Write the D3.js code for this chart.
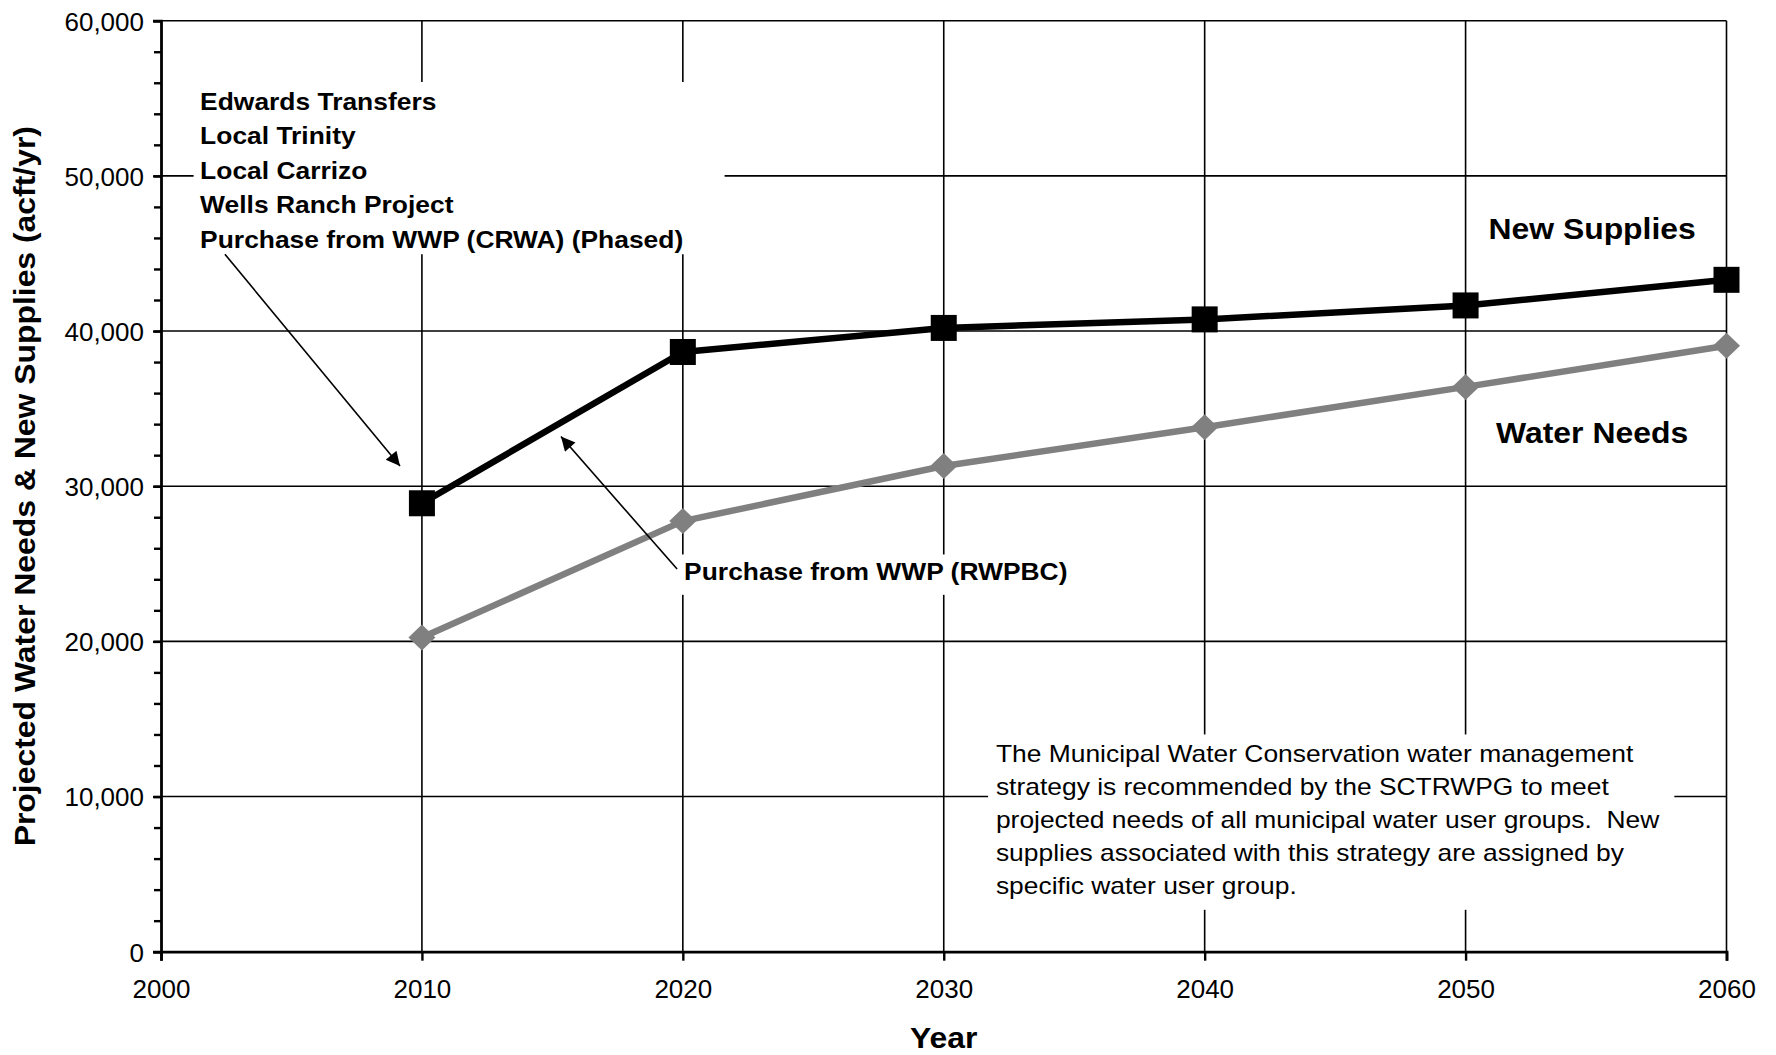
<!DOCTYPE html>
<html>
<head>
<meta charset="utf-8">
<script src="https://cdn.jsdelivr.net/npm/d3@7"></script>
<style>
  body { margin: 0; background: #fff; }
  text { font-family: "Liberation Sans", Arial, sans-serif; fill: #000; }
</style>
</head>
<body>
<div id="chart-area"></div>
<script>
// data
var years = [2010, 2020, 2030, 2040, 2050, 2060];
var newSupplies = [28900, 38650, 40200, 40750, 41650, 43300];
var waterNeeds = [20250, 27750, 31300, 33800, 36400, 39050];
var xTicks = [2000, 2010, 2020, 2030, 2040, 2050, 2060];
var yTicks = [0, 10000, 20000, 30000, 40000, 50000, 60000];
var yMinorTicks = d3.range(0, 60001, 2000);
var strategyLines = ["Edwards Transfers", "Local Trinity", "Local Carrizo", "Wells Ranch Project", "Purchase from WWP (CRWA) (Phased)"];
var noteLines = [
  "The Municipal Water Conservation water management",
  "strategy is recommended by the SCTRWPG to meet",
  "projected needs of all municipal water user groups.  New",
  "supplies associated with this strategy are assigned by",
  "specific water user group."
];

var margin = {top: 20.7, right: 49.5, bottom: 103.3, left: 161},
    width = 1776 - margin.left - margin.right,
    height = 1055 - margin.top - margin.bottom;

var svg = d3.select("#chart-area")
  .append("svg")
    .attr("width", 1776)
    .attr("height", 1055)
  .append("g")
    .attr("transform", "translate(" + margin.left + "," + margin.top + ")");

var x = d3.scaleLinear().domain([2000, 2060]).range([0, width]);
var y = d3.scaleLinear().domain([0, 60000]).range([height, 0]);

// gridlines
svg.append("g")
  .selectAll("line")
  .data(yTicks.slice(1))
  .enter().append("line")
    .attr("x1", 0).attr("x2", width)
    .attr("y1", function(d) { return y(d); })
    .attr("y2", function(d) { return y(d); })
    .attr("stroke", "#000").attr("stroke-width", 1.6);

svg.append("g")
  .selectAll("line")
  .data(xTicks.slice(1))
  .enter().append("line")
    .attr("y1", 0).attr("y2", height)
    .attr("x1", function(d) { return x(d); })
    .attr("x2", function(d) { return x(d); })
    .attr("stroke", "#000").attr("stroke-width", 1.6);

// white boxes behind the text blocks
function box(x0, x1, v0, v1) {
  svg.append("rect")
    .attr("x", x(x0)).attr("width", x(x1) - x(x0))
    .attr("y", y(v1)).attr("height", y(v0) - y(v1))
    .attr("fill", "#fff");
}
box(2001.25, 2021.6, 44950, 56050);
box(2019.8, 2035.0, 23000, 25600);
box(2031.7, 2058.0, 2700, 14000);

// series
var supplyData = years.map(function(d, i) { return {year: d, value: newSupplies[i]}; });
var needsData = years.map(function(d, i) { return {year: d, value: waterNeeds[i]}; });

var line = d3.line()
  .x(function(d) { return x(d.year); })
  .y(function(d) { return y(d.value); });

svg.append("path")
  .datum(needsData)
  .attr("d", line)
  .attr("fill", "none")
  .attr("stroke", "#808080")
  .attr("stroke-width", 6.5)
  .attr("stroke-linejoin", "round");

svg.append("path")
  .datum(supplyData)
  .attr("d", line)
  .attr("fill", "none")
  .attr("stroke", "#000")
  .attr("stroke-width", 6.5)
  .attr("stroke-linejoin", "round");

svg.append("g")
  .selectAll("path")
  .data(needsData)
  .enter().append("path")
    .attr("d", "M0,-13L13.5,0L0,13L-13.5,0Z")
    .attr("transform", function(d) { return "translate(" + x(d.year) + "," + y(d.value) + ")"; })
    .attr("fill", "#808080");

svg.append("g")
  .selectAll("rect")
  .data(supplyData)
  .enter().append("rect")
    .attr("x", function(d) { return x(d.year) - 13; })
    .attr("y", function(d) { return y(d.value) - 13; })
    .attr("width", 26)
    .attr("height", 26)
    .attr("fill", "#000");

// arrows
svg.append("defs").append("marker")
  .attr("id", "head")
  .attr("viewBox", "0 0 10 10")
  .attr("refX", 10).attr("refY", 5)
  .attr("markerWidth", 17).attr("markerHeight", 14)
  .attr("markerUnits", "userSpaceOnUse")
  .attr("orient", "auto")
  .append("path")
    .attr("d", "M0,0L10,5L0,10Z")
    .attr("fill", "#000");

var arrows = [
  {x1: 2002.45, y1: 44950, x2: 2009.16, y2: 31300},
  {x1: 2019.78, y1: 24660, x2: 2015.33, y2: 33200}
];
svg.append("g")
  .selectAll("line")
  .data(arrows)
  .enter().append("line")
    .attr("x1", function(d) { return x(d.x1); })
    .attr("y1", function(d) { return y(d.y1); })
    .attr("x2", function(d) { return x(d.x2); })
    .attr("y2", function(d) { return y(d.y2); })
    .attr("stroke", "#000")
    .attr("stroke-width", 1.6)
    .attr("marker-end", "url(#head)");

// axes
var yAxis = svg.append("g")
  .call(d3.axisLeft(y).tickValues(yTicks).tickSize(8).tickPadding(9).tickFormat(d3.format(",")));
svg.append("g")
  .call(d3.axisLeft(y).tickValues(yMinorTicks).tickSize(7).tickFormat(""))
  .select(".domain").remove();
var xAxis = svg.append("g")
  .attr("transform", "translate(0," + height + ")")
  .call(d3.axisBottom(x).tickValues(xTicks).tickSize(9).tickFormat(d3.format("d")));

svg.selectAll(".domain").attr("stroke-width", 2.8);
svg.selectAll(".tick line").attr("stroke-width", 2.4);
yAxis.selectAll(".tick text").attr("font-size", "26px").attr("dy", "0.36em");
xAxis.selectAll(".tick text").attr("font-size", "26px").attr("y", 46).attr("dy", "0");
yAxis.selectAll("text").attr("font-family", null);
xAxis.selectAll("text").attr("font-family", null);

// axis titles
svg.append("text")
  .attr("class", "st")
  .attr("x", x(2030))
  .attr("y", 1048 - margin.top)
  .attr("text-anchor", "middle")
  .attr("font-size", "29px")
  .attr("font-weight", "bold")
  .text("Year");

svg.append("text")
  .attr("class", "st")
  .attr("transform", "rotate(-90)")
  .attr("x", -height / 2)
  .attr("y", 35 - margin.left)
  .attr("text-anchor", "middle")
  .attr("font-size", "29px")
  .attr("font-weight", "bold")
  .text("Projected Water Needs & New Supplies (acft/yr)");

// labels
svg.append("g")
  .selectAll("text")
  .data(strategyLines)
  .enter().append("text")
    .attr("class", "st")
    .attr("x", x(2001.5))
    .attr("y", function(d, i) { return 110 - margin.top + i * 34.5; })
    .attr("font-size", "24px")
    .attr("font-weight", "bold")
    .text(function(d) { return d; });

svg.append("text")
  .attr("class", "st")
  .attr("x", x(2020.05))
  .attr("y", 580 - margin.top)
  .attr("font-size", "24px")
  .attr("font-weight", "bold")
  .text("Purchase from WWP (RWPBC)");

svg.append("text")
  .attr("class", "st")
  .attr("x", x(2054.85))
  .attr("y", 239 - margin.top)
  .attr("text-anchor", "middle")
  .attr("font-size", "29px")
  .attr("font-weight", "bold")
  .text("New Supplies");

svg.append("text")
  .attr("class", "st")
  .attr("x", x(2054.85))
  .attr("y", 443 - margin.top)
  .attr("text-anchor", "middle")
  .attr("font-size", "29px")
  .attr("font-weight", "bold")
  .text("Water Needs");

svg.append("g")
  .selectAll("text")
  .data(noteLines)
  .enter().append("text")
    .attr("class", "st")
    .attr("x", x(2032.0))
    .attr("y", function(d, i) { return 762 - margin.top + i * 33; })
    .attr("font-size", "24px")
    .style("white-space", "pre")
    .text(function(d) { return d; });

// the source text is a bit wider than plain Arial
svg.selectAll("text.st").each(function() {
  var w = this.getComputedTextLength();
  d3.select(this)
    .attr("textLength", w * 1.1)
    .attr("lengthAdjust", "spacingAndGlyphs");
});
</script>
</body>
</html>
